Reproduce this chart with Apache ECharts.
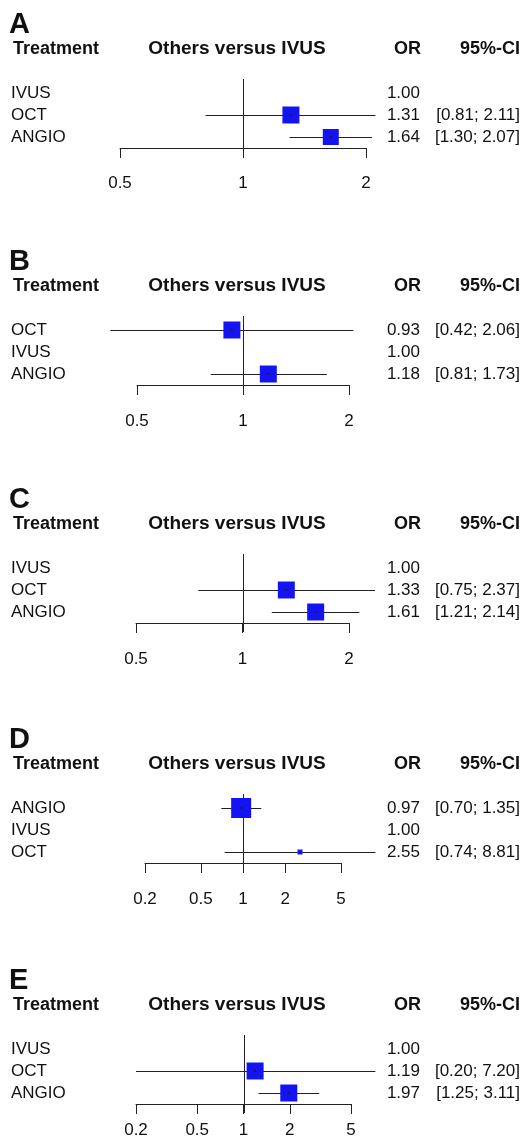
<!DOCTYPE html>
<html>
<head>
<meta charset="utf-8">
<script src="https://cdn.jsdelivr.net/npm/echarts@6.0.0/dist/echarts.min.js"></script>
<style>
  html, body { margin: 0; background: #fff; }
  #chart { width: 521px; height: 1148px; }
</style>
</head>
<body>
<div id="chart"></div>
<script>
// panel letters and shared header
const letters = ['A', 'B', 'C', 'D', 'E']
const headers = ['Treatment', 'Others versus IVUS', 'OR', '95%-CI']

// A
const treatmentsA = ['IVUS', 'OCT', 'ANGIO']
const orA = [1.00, 1.31, 1.64]
const loA = [null, 0.81, 1.30]
const hiA = [null, 2.11, 2.07]
const ticksA = [0.5, 1, 2]
// B
const treatmentsB = ['OCT', 'IVUS', 'ANGIO']
const orB = [0.93, 1.00, 1.18]
const loB = [0.42, null, 0.81]
const hiB = [2.06, null, 1.73]
const ticksB = [0.5, 1, 2]
// C
const treatmentsC = ['IVUS', 'OCT', 'ANGIO']
const orC = [1.00, 1.33, 1.61]
const loC = [null, 0.75, 1.21]
const hiC = [null, 2.37, 2.14]
const ticksC = [0.5, 1, 2]
// D
const treatmentsD = ['ANGIO', 'IVUS', 'OCT']
const orD = [0.97, 1.00, 2.55]
const loD = [0.70, null, 0.74]
const hiD = [1.35, null, 8.81]
const ticksD = [0.2, 0.5, 1, 2, 5]
// E
const treatmentsE = ['IVUS', 'OCT', 'ANGIO']
const orE = [1.00, 1.19, 1.97]
const loE = [null, 0.20, 1.25]
const hiE = [null, 7.20, 3.11]
const ticksE = [0.2, 0.5, 1, 2, 5]

const panels = [
  { treatments: treatmentsA, or: orA, lo: loA, hi: hiA, ticks: ticksA },
  { treatments: treatmentsB, or: orB, lo: loB, hi: hiB, ticks: ticksB },
  { treatments: treatmentsC, or: orC, lo: loC, hi: hiC, ticks: ticksC },
  { treatments: treatmentsD, or: orD, lo: loD, hi: hiD, ticks: ticksD },
  { treatments: treatmentsE, or: orE, lo: loE, hi: hiE, ticks: ticksE }
]

// layout / styles (pixels)
const layout = [
  { axisY: 148, x0: 120, x1: 366, labelMargin: 27, squares: [0, 17, 16] },
  { axisY: 385, x0: 137, x1: 349, labelMargin: 28, squares: [17, 0, 17] },
  { axisY: 623, x0: 136, x1: 349, labelMargin: 28, squares: [0, 17, 17] },
  { axisY: 863, x0: 145, x1: 341, labelMargin: 28, squares: [20, 0, 5] },
  { axisY: 1104, x0: 136, x1: 351, labelMargin: 18, squares: [0, 17, 17] }
]
const ROW_H = 22
const FONT = '"Liberation Sans", Arial, sans-serif'
const TEXT = '#111'
const LINE = '#222'
const BLUE = '#1414f2'

const chart = echarts.init(document.getElementById('chart'), null, { renderer: 'canvas' })

const grid = []
const xAxis = []
const yAxis = []
const series = []
const graphic = []

function txt(text, x, y, align, size, bold) {
  return {
    type: 'text',
    x: 0, y: 0,
    style: {
      text: text, x: x, y: y,
      textAlign: align, align: align,
      textVerticalAlign: 'middle', verticalAlign: 'middle',
      fontSize: size, fontFamily: FONT, fontWeight: bold ? 'bold' : 'normal',
      fill: TEXT
    }
  }
}

panels.forEach((p, i) => {
  const L = layout[i]
  const n = p.treatments.length
  const logTicks = p.ticks.map(t => Math.log10(t))

  grid.push({ left: L.x0, width: L.x1 - L.x0, top: L.axisY - n * ROW_H, height: n * ROW_H })

  xAxis.push({
    gridIndex: i,
    type: 'value',
    min: logTicks[0],
    max: logTicks[logTicks.length - 1],
    splitLine: { show: false },
    axisLine: { show: true, lineStyle: { color: LINE, width: 1 } },
    axisTick: { show: true, length: 10, customValues: logTicks, lineStyle: { color: LINE, width: 1 } },
    axisLabel: {
      customValues: logTicks,
      margin: L.labelMargin,
      fontSize: 17, fontFamily: FONT, color: TEXT,
      formatter: v => String(Number(Math.pow(10, v).toPrecision(2)))
    }
  })

  yAxis.push({
    gridIndex: i,
    type: 'category',
    inverse: true,
    data: p.treatments,
    axisLine: { show: false },
    axisTick: { show: false },
    splitLine: { show: false },
    axisLabel: {
      interval: 0,
      margin: L.x0 - 11, align: 'left',
      fontSize: 17, fontFamily: FONT, color: TEXT
    }
  })

  // reference line at OR = 1
  series.push({
    type: 'custom',
    xAxisIndex: i, yAxisIndex: i,
    data: [[0]],
    silent: true,
    renderItem: (params, api) => {
      const cs = params.coordSys
      const x = Math.round(api.coord([api.value(0), 0])[0]) + 0.5
      return {
        type: 'line',
        shape: { x1: x, y1: cs.y - 3, x2: x, y2: cs.y + cs.height + 9 },
        style: { stroke: LINE, lineWidth: 1 }
      }
    }
  })

  // whiskers + squares
  const ciData = []
  p.or.forEach((v, k) => {
    if (p.lo[k] != null) ciData.push([k, Math.log10(v), Math.log10(p.lo[k]), Math.log10(p.hi[k])])
  })
  series.push({
    type: 'custom',
    xAxisIndex: i, yAxisIndex: i,
    data: ciData,
    silent: true,
    renderItem: (params, api) => {
      const k = api.value(0)
      const c = api.coord([api.value(1), k])
      const a = api.coord([api.value(2), k])
      const b = api.coord([api.value(3), k])
      const y = Math.round(c[1]) + 0.5
      const s = L.squares[k]
      return {
        type: 'group',
        children: [
          { type: 'line', shape: { x1: a[0], y1: y, x2: b[0], y2: y }, style: { stroke: LINE, lineWidth: 1 } },
          { type: 'rect', shape: { x: c[0] - s / 2, y: c[1] - s / 2, width: s, height: s }, style: { fill: BLUE } },
          { type: 'rect', shape: { x: c[0] - 1, y: c[1] - 1, width: 2, height: 2 }, style: { fill: s > 8 ? '#222' : BLUE } }
        ]
      }
    }
  })

  // OR and CI text columns
  series.push({
    type: 'custom',
    xAxisIndex: i, yAxisIndex: i,
    data: p.or.map((v, k) => [0, k]),
    silent: true,
    renderItem: (params, api) => {
      const k = api.value(1)
      const y = api.coord([0, k])[1]
      const idx = params.dataIndex
      const children = [txt(p.or[idx].toFixed(2), 420, y, 'right', 17, false)]
      if (p.lo[idx] != null) {
        children.push(txt('[' + p.lo[idx].toFixed(2) + '; ' + p.hi[idx].toFixed(2) + ']', 520, y, 'right', 17, false))
      }
      return { type: 'group', children: children }
    }
  })

  // panel letter and header row
  const hy = L.axisY - 99
  graphic.push(txt(letters[i], 9, hy - 24, 'left', 29, true))
  graphic.push(txt(headers[0], 13, hy, 'left', 18, true))
  graphic.push(txt(headers[1], 237, hy, 'center', 19, true))
  graphic.push(txt(headers[2], 421, hy, 'right', 18, true))
  graphic.push(txt(headers[3], 520, hy, 'right', 18, true))
})

chart.setOption({
  backgroundColor: '#fff',
  animation: false,
  grid: grid,
  xAxis: xAxis,
  yAxis: yAxis,
  series: series,
  graphic: graphic
})
</script>
</body>
</html>
